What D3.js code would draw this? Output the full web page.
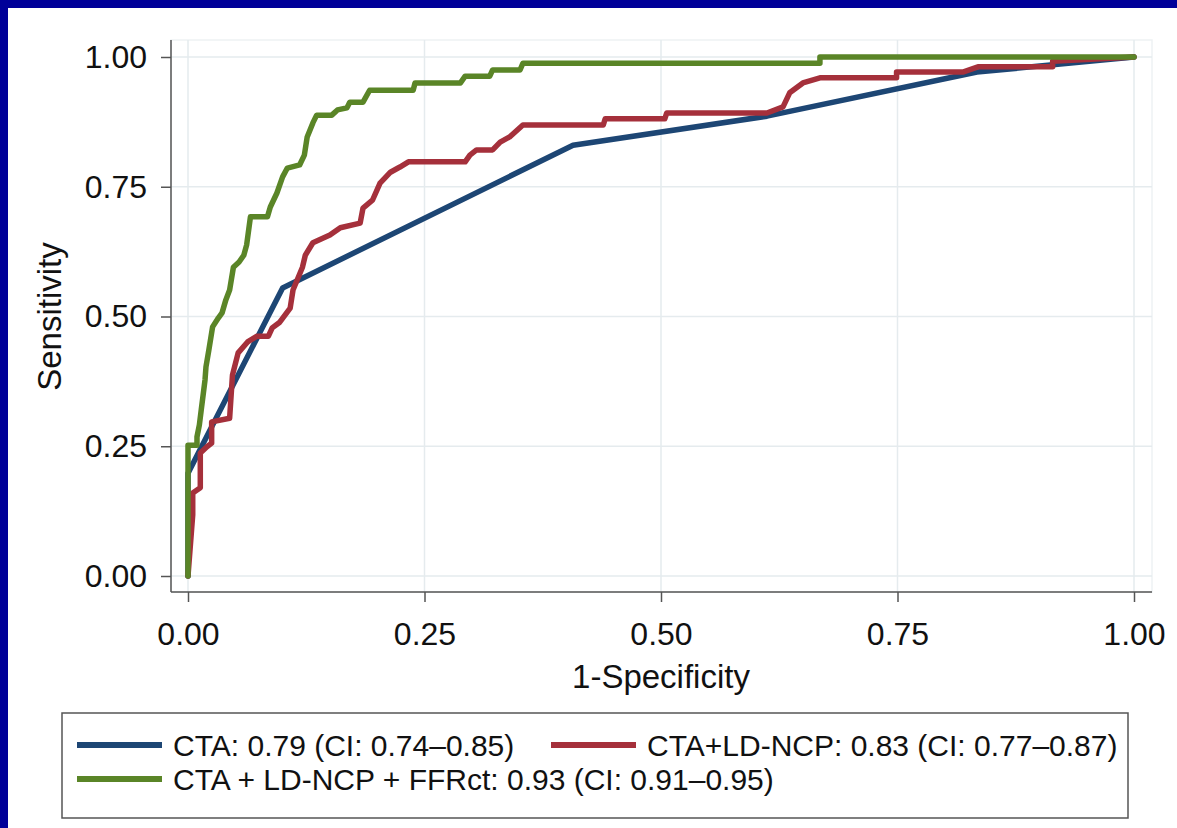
<!DOCTYPE html>
<html>
<head>
<meta charset="utf-8">
<script src="https://cdn.jsdelivr.net/npm/d3@7"></script>
<style>
  html, body { margin: 0; padding: 0; background: #ffffff; }
  svg { display: block; }
  text { font-family: "Liberation Sans", Arial, Helvetica, sans-serif; fill: #111; }
</style>
</head>
<body>
<svg id="chart" width="1177" height="828"></svg>
<script>
// ROC curves: [1-specificity, sensitivity]
const ctaPoints = [
  [0, 0], [0, 0.198], [0.100, 0.555], [0.407, 0.830], [0.612, 0.886],
  [0.834, 0.971], [1, 1]
];

const ctaNcpPoints = [
  [0, 0], [0.005, 0.118], [0.005, 0.160], [0.013, 0.170], [0.013, 0.237],
  [0.020, 0.249], [0.025, 0.256], [0.025, 0.297], [0.044, 0.304], [0.047, 0.387],
  [0.053, 0.430], [0.063, 0.451], [0.073, 0.462], [0.085, 0.462], [0.089, 0.478],
  [0.097, 0.489], [0.108, 0.516], [0.111, 0.551], [0.121, 0.595], [0.124, 0.618],
  [0.132, 0.642], [0.150, 0.657], [0.161, 0.671], [0.182, 0.680], [0.185, 0.709],
  [0.195, 0.724], [0.203, 0.757], [0.214, 0.778], [0.224, 0.788], [0.233, 0.798],
  [0.293, 0.798], [0.298, 0.811], [0.305, 0.821], [0.322, 0.821], [0.330, 0.836],
  [0.340, 0.846], [0.354, 0.869], [0.439, 0.869], [0.441, 0.881], [0.504, 0.881],
  [0.506, 0.892], [0.612, 0.892], [0.629, 0.904], [0.636, 0.931], [0.650, 0.950],
  [0.668, 0.960], [0.749, 0.960], [0.749, 0.971], [0.819, 0.971], [0.835, 0.981],
  [0.914, 0.981], [0.914, 0.992], [1, 1]
];

const ctaNcpFfrPoints = [
  [0, 0], [0, 0.252], [0.0095, 0.252], [0.0095, 0.268], [0.012, 0.291],
  [0.014, 0.320], [0.016, 0.349], [0.018, 0.378], [0.019, 0.403], [0.022, 0.435],
  [0.026, 0.480], [0.032, 0.497], [0.036, 0.507], [0.040, 0.532], [0.044, 0.551],
  [0.048, 0.595], [0.054, 0.605], [0.059, 0.618], [0.062, 0.638], [0.066, 0.692],
  [0.084, 0.692], [0.087, 0.711], [0.094, 0.738], [0.100, 0.769], [0.105, 0.786],
  [0.118, 0.792], [0.123, 0.811], [0.126, 0.846], [0.132, 0.873], [0.136, 0.888],
  [0.152, 0.888], [0.158, 0.898], [0.168, 0.902], [0.171, 0.913], [0.185, 0.913],
  [0.192, 0.936], [0.238, 0.936], [0.240, 0.950], [0.288, 0.950], [0.293, 0.963],
  [0.319, 0.963], [0.322, 0.975], [0.351, 0.975], [0.354, 0.988], [0.668, 0.988],
  [0.668, 1.0], [1, 1]
];

const seriesNames = [
  "CTA: 0.79 (CI: 0.74\u20130.85)",
  "CTA+LD-NCP: 0.83 (CI: 0.77\u20130.87)",
  "CTA + LD-NCP + FFRct: 0.93 (CI: 0.91\u20130.95)"
];
const seriesColors = ["#1d4674", "#a5303b", "#5a8527"];
const tickValues = [0, 0.25, 0.5, 0.75, 1];
const xTitle = "1-Specificity";
const yTitle = "Sensitivity";

const svg = d3.select("#chart");

// page frame
svg.append("rect").attr("width", 1177).attr("height", 828).attr("fill", "#000099");
svg.append("rect").attr("x", 8).attr("y", 8).attr("width", 1169).attr("height", 820).attr("fill", "#ffffff");

const x = d3.scaleLinear().domain([0, 1]).range([188, 1134]);
const y = d3.scaleLinear().domain([0, 1]).range([576, 57]);

const plotLeft = 171, plotRight = 1152, plotTop = 40, plotBottom = 592;

// plot region outline
svg.append("rect")
  .attr("x", plotLeft).attr("y", plotTop)
  .attr("width", plotRight - plotLeft).attr("height", plotBottom - plotTop)
  .attr("fill", "none").attr("stroke", "#eef2f4").attr("stroke-width", 1.5);

// grid
const grid = svg.append("g").attr("stroke", "#e5ebee").attr("stroke-width", 1.5);
tickValues.forEach(v => {
  grid.append("line").attr("x1", plotLeft).attr("x2", plotRight)
    .attr("y1", y(v)).attr("y2", y(v));
  grid.append("line").attr("y1", plotTop).attr("y2", plotBottom)
    .attr("x1", x(v)).attr("x2", x(v));
});

// axes
const fmt = d3.format(".2f");
const yAxis = svg.append("g")
  .attr("transform", `translate(${plotLeft},0)`)
  .call(d3.axisLeft(y).tickValues(tickValues).tickFormat(fmt).tickSize(10).tickPadding(14));
const xAxis = svg.append("g")
  .attr("transform", `translate(0,${plotBottom})`)
  .call(d3.axisBottom(x).tickValues(tickValues).tickFormat(fmt).tickSize(10).tickPadding(20));

[yAxis, xAxis].forEach(g => {
  g.select(".domain").remove();
  g.selectAll(".tick line").attr("stroke", "#555").attr("stroke-width", 1.5);
  g.selectAll(".tick text")
    .style("font-family", '"Liberation Sans", Arial, sans-serif')
    .style("font-size", "32px").attr("fill", "#111");
});
svg.append("line").attr("x1", plotLeft).attr("x2", plotLeft)
  .attr("y1", plotTop).attr("y2", plotBottom)
  .attr("stroke", "#555").attr("stroke-width", 1.5);
svg.append("line").attr("x1", plotLeft).attr("x2", plotRight)
  .attr("y1", plotBottom).attr("y2", plotBottom)
  .attr("stroke", "#555").attr("stroke-width", 1.5);

// axis titles
svg.append("text").attr("x", x(0.5)).attr("y", 688)
  .attr("text-anchor", "middle").style("font-size", "33px").text(xTitle);
svg.append("text")
  .attr("transform", `translate(61,${y(0.5)}) rotate(-90)`)
  .attr("text-anchor", "middle").style("font-size", "33px").text(yTitle);

// curves
const line = d3.line().x(d => x(d[0])).y(d => y(d[1]));
[ctaPoints, ctaNcpPoints, ctaNcpFfrPoints].forEach((pts, i) => {
  svg.append("path").datum(pts)
    .attr("d", line)
    .attr("fill", "none")
    .attr("stroke", seriesColors[i])
    .attr("stroke-width", 5.5)
    .attr("stroke-linejoin", "round")
    .attr("stroke-linecap", "round");
});

// legend
const legend = svg.append("g");
legend.append("rect").attr("x", 62).attr("y", 713).attr("width", 1066).attr("height", 105)
  .attr("fill", "#fff").attr("stroke", "#555").attr("stroke-width", 1.5);
const legendItems = [
  { x: 77, y: 745, i: 0 },
  { x: 551, y: 745, i: 1 },
  { x: 77, y: 779, i: 2 }
];
legendItems.forEach(it => {
  legend.append("line").attr("x1", it.x).attr("x2", it.x + 85)
    .attr("y1", it.y).attr("y2", it.y)
    .attr("stroke", seriesColors[it.i]).attr("stroke-width", 6);
  legend.append("text").attr("x", it.x + 96).attr("y", it.y + 11)
    .style("font-size", "30px").text(seriesNames[it.i]);
});
</script>
</body>
</html>
